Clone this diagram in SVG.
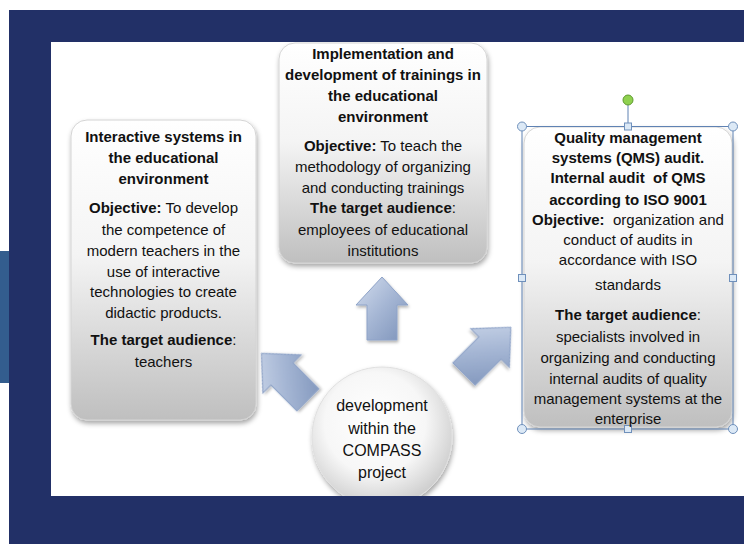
<svg xmlns="http://www.w3.org/2000/svg" width="744" height="544" viewBox="0 0 744 544">
<defs>
<style>
.t{font-family:"Liberation Sans",Arial,sans-serif;font-size:15px;fill:#111;text-anchor:middle}
.b{font-weight:bold}
.hub{font-family:"Liberation Sans",Arial,sans-serif;font-size:16px;fill:#111;text-anchor:middle}
.box{fill:url(#gBox);stroke:#d4d4d4;stroke-width:1;filter:url(#sh)}
.arr{fill:url(#gArr);stroke:#8ea3c8;stroke-width:1;filter:url(#sh2)}
.hc{fill:#dce9f6;stroke:#6f90bb;stroke-width:1}
</style>
<linearGradient id="gBox" x1="0" y1="0" x2="0" y2="1">
<stop offset="0" stop-color="#ffffff"/>
<stop offset="0.45" stop-color="#f4f4f4"/>
<stop offset="1" stop-color="#bfbfbf"/>
</linearGradient>
<linearGradient id="gArr" x1="0" y1="0" x2="1" y2="1">
<stop offset="0" stop-color="#d3ddee"/>
<stop offset="0.5" stop-color="#a5b6d4"/>
<stop offset="1" stop-color="#7c92b9"/>
</linearGradient>
<radialGradient id="gHub" cx="0.45" cy="0.4" r="0.6">
<stop offset="0" stop-color="#ffffff"/>
<stop offset="0.6" stop-color="#f7f7f7"/>
<stop offset="1" stop-color="#cfcfcf"/>
</radialGradient>
<filter id="sh" x="-10%" y="-10%" width="125%" height="125%">
<feDropShadow dx="1" dy="3" stdDeviation="2.5" flood-color="#000" flood-opacity="0.35"/>
</filter>
<filter id="sh2" x="-20%" y="-20%" width="150%" height="150%">
<feDropShadow dx="1" dy="2" stdDeviation="1.5" flood-color="#000" flood-opacity="0.3"/>
</filter>
<clipPath id="panel"><rect x="51" y="42" width="693" height="454"/></clipPath>
<path id="arrow" d="M0,-32 L26,-4 L15,-4 L15,31 L-15,31 L-15,-4 L-26,-4 Z"/>
</defs>

<g id="background">
<rect x="0" y="0" width="744" height="544" fill="#ffffff"/>
<rect x="9" y="10" width="735" height="534" fill="#223067"/>
<rect x="0" y="251" width="9" height="132" fill="#335d8e"/>
<rect x="51" y="42" width="693" height="454" fill="#ffffff"/>
</g>

<g id="connectors">
<use href="#arrow" class="arr" transform="translate(382,309)"/>
<use href="#arrow" class="arr" transform="translate(285,377) rotate(-45) scale(1.04)"/>
<use href="#arrow" class="arr" transform="translate(487,351) rotate(45) scale(1.05)"/>
</g>

<g id="node-left">
<rect class="box" x="71" y="120" width="185" height="300" rx="16"/>
<text class="t b" x="163.5" y="142">Interactive systems in</text>
<text class="t b" x="163.5" y="163">the educational</text>
<text class="t b" x="163.5" y="184">environment</text>
<text class="t" x="163.5" y="213"><tspan class="b">Objective:</tspan> To develop</text>
<text class="t" x="163.5" y="235">the competence of</text>
<text class="t" x="163.5" y="256">modern teachers in the</text>
<text class="t" x="163.5" y="277">use of interactive</text>
<text class="t" x="163.5" y="297">technologies to create</text>
<text class="t" x="163.5" y="318">didactic products.</text>
<text class="t" x="163.5" y="345"><tspan class="b">The target audience</tspan>:</text>
<text class="t" x="163.5" y="367">teachers</text>
</g>

<g id="node-center">
<rect class="box" x="279" y="43" width="208" height="220" rx="16"/>
<text class="t b" x="383" y="59">Implementation and</text>
<text class="t b" x="383" y="80">development of trainings in</text>
<text class="t b" x="383" y="101">the educational</text>
<text class="t b" x="383" y="122">environment</text>
<text class="t" x="383" y="151"><tspan class="b">Objective:</tspan> To teach the</text>
<text class="t" x="383" y="172">methodology of organizing</text>
<text class="t" x="383" y="193">and conducting trainings</text>
<text class="t" x="383" y="213"><tspan class="b">The target audience</tspan>:</text>
<text class="t" x="383" y="235">employees of educational</text>
<text class="t" x="383" y="256">institutions</text>
</g>

<g id="node-right">
<rect class="box" x="524" y="127" width="208" height="300" rx="16"/>
<g id="selection">
<rect x="522" y="126.5" width="211" height="302.5" fill="none" stroke="#5f82b3" stroke-width="1"/>
<line x1="628" y1="104" x2="628" y2="123" stroke="#5f82b3" stroke-width="1"/>
<circle cx="628" cy="100" r="5" fill="#8fd14f" stroke="#5f9a30" stroke-width="1"/>
<circle class="hc" cx="522" cy="126.5" r="4.5"/>
<circle class="hc" cx="733" cy="126.5" r="4.5"/>
<circle class="hc" cx="522" cy="429" r="4.5"/>
<circle class="hc" cx="733" cy="429" r="4.5"/>
<rect class="hc" x="624.5" y="123" width="7" height="7"/>
<rect class="hc" x="624.5" y="425.5" width="7" height="7"/>
<rect class="hc" x="518.5" y="274.5" width="7" height="7"/>
<rect class="hc" x="729.5" y="274.5" width="7" height="7"/>
</g>
<text class="t b" x="628" y="143">Quality management</text>
<text class="t b" x="628" y="163">systems (QMS) audit.</text>
<text class="t b" x="628" y="183" xml:space="preserve">Internal audit  of QMS</text>
<text class="t b" x="628" y="205">according to ISO 9001</text>
<text class="t" x="628" y="225" xml:space="preserve"><tspan class="b">Objective:</tspan>  organization and</text>
<text class="t" x="628" y="245">conduct of audits in</text>
<text class="t" x="628" y="265">accordance with ISO</text>
<text class="t" x="628" y="290">standards</text>
<text class="t" x="628" y="320"><tspan class="b">The target audience</tspan>:</text>
<text class="t" x="628" y="342">specialists involved in</text>
<text class="t" x="628" y="363">organizing and conducting</text>
<text class="t" x="628" y="384">internal audits of quality</text>
<text class="t" x="628" y="404">management systems at the</text>
<text class="t" x="628" y="424">enterprise</text>
</g>

<g id="node-hub" clip-path="url(#panel)">
<circle cx="382" cy="437" r="70" fill="url(#gHub)" stroke="#e0e0e0" stroke-width="1" filter="url(#sh)"/>
<text class="hub" x="382" y="411">development</text>
<text class="hub" x="382" y="434">within the</text>
<text class="hub" x="382" y="456">COMPASS</text>
<text class="hub" x="382" y="478">project</text>
</g>
</svg>
